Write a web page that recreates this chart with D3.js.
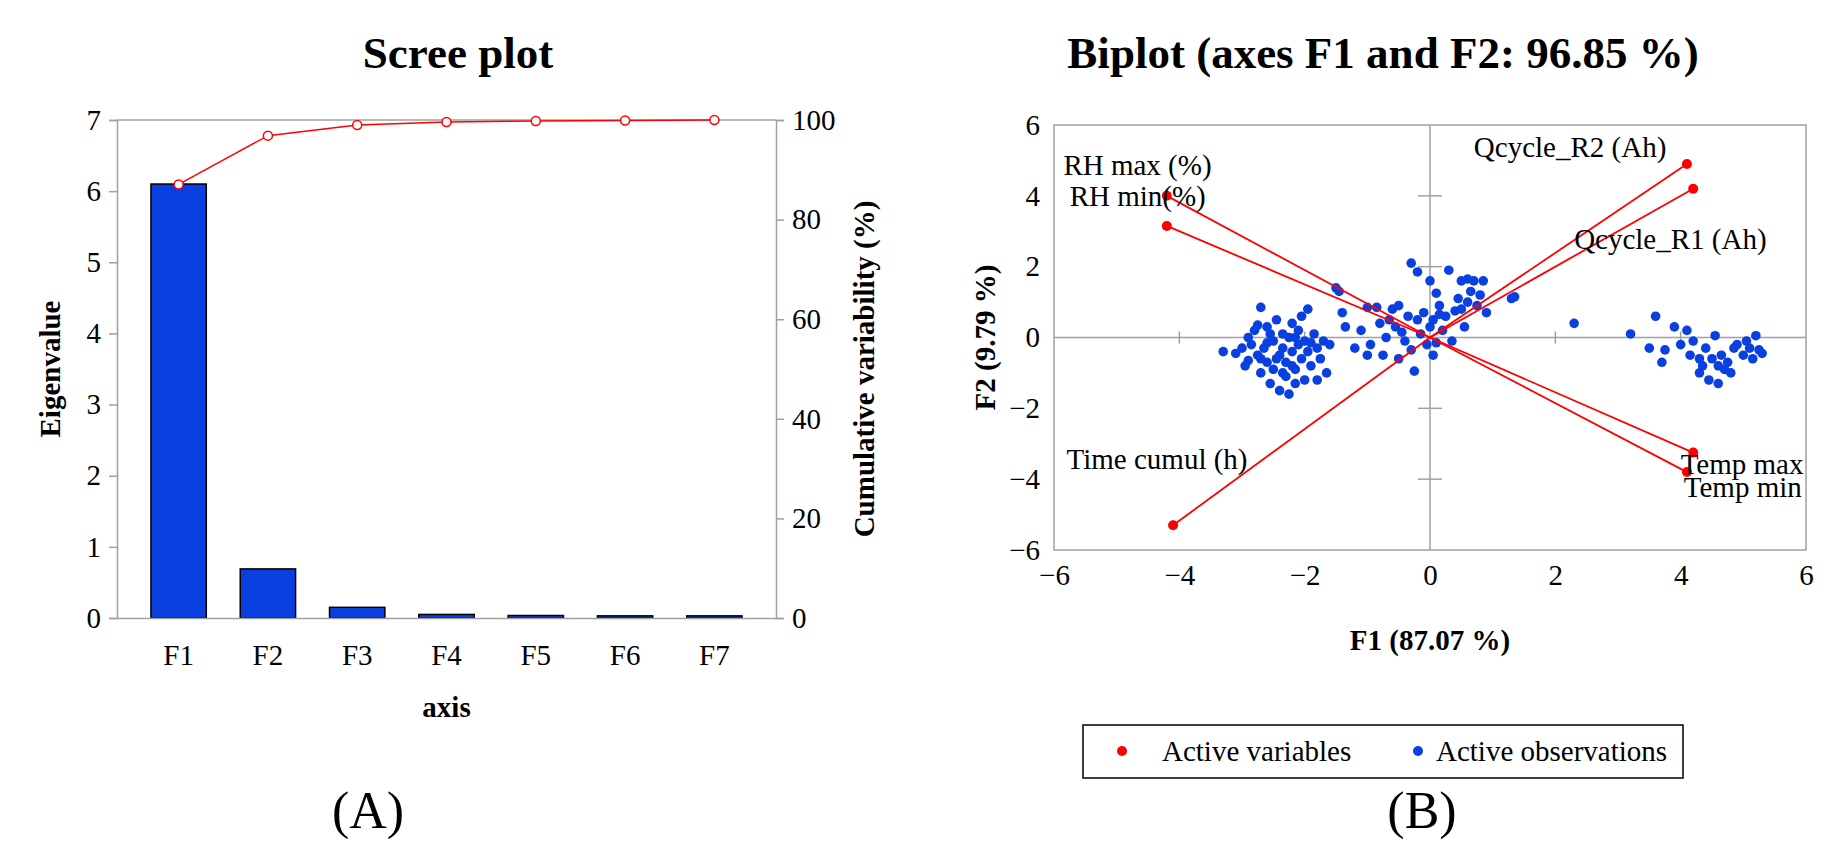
<!DOCTYPE html>
<html><head><meta charset="utf-8">
<script src="https://cdn.jsdelivr.net/npm/d3@7"></script>
<style>body{margin:0;background:#fff}text{font-family:"Liberation Serif","Times New Roman",serif}</style>
</head><body><svg id="c" width="1840" height="850"></svg>
<script>
const factors=["F1","F2","F3","F4","F5","F6","F7"];
const eigenvalues=[6.1,0.69,0.15,0.05,0.035,0.03,0.03];
const cumulative=[87.07,96.86,99.0,99.6,99.8,99.9,100];
const eigTicks=[0,1,2,3,4,5,6,7];
const cumTicks=[0,20,40,60,80,100];
const varNames=["RH max (%)","RH min(%)","Qcycle_R2 (Ah)","Qcycle_R1 (Ah)","Temp max","Temp min","Time cumul (h)"];
const varX=[-4.2,-4.2,4.1,4.2,4.2,4.1,-4.1];
const varY=[4.0,3.15,4.9,4.2,-3.25,-3.8,-5.3];
const varLabelX=[-5.85,-5.75,0.7,2.3,4.0,4.05,-5.8];
const varLabelY=[4.6,3.7,5.1,2.5,-3.85,-4.5,-3.7];
const obsX=[-3.1,-3.0,-2.95,-2.9,-2.85,-2.8,-2.75,-2.7,-2.7,-2.65,-2.6,-2.6,-2.55,-2.5,-2.5,-2.45,-2.4,-2.4,-2.35,-2.35,-2.3,-2.3,-2.25,-2.25,-2.2,-2.2,-2.15,-2.15,-2.1,-2.1,-2.05,-2.0,-2.0,-1.95,-1.95,-1.9,-1.85,-1.8,-1.75,-1.7,-1.65,-2.9,-2.75,-2.6,-2.45,-2.2,-2.05,-1.9,-3.3,-2.55,-2.35,-2.7,-2.15,-1.8,
-1.5,-1.45,-1.6,-1.4,-1.35,-1.2,-1.1,-1.0,-0.95,-0.85,-0.8,-0.75,-0.7,-0.6,-0.55,-0.5,-0.45,-0.4,-0.35,-0.3,-0.25,-0.2,-0.15,-0.1,-0.05,0.0,0.05,0.05,0.1,0.15,0.2,0.25,0.3,0.35,0.4,0.45,0.5,0.55,0.6,0.65,0.7,0.75,0.8,0.85,0.9,0.6,1.3,1.35,2.3,-0.5,-0.2,0.1,-0.3,0.0,0.15,-1.0,0.5,-0.65,
3.2,3.5,3.6,3.7,3.75,3.9,4.0,4.1,4.15,4.2,4.3,4.35,4.4,4.45,4.5,4.55,4.6,4.65,4.7,4.75,4.8,4.85,4.9,5.0,5.05,5.1,5.15,5.2,5.25,5.3,4.3,4.6];
const obsY=[-0.45,-0.3,-0.8,-0.65,-0.2,0.2,-0.5,-1.0,0.85,-0.3,-0.7,0.3,-1.3,-0.1,-0.9,0.5,-0.5,-1.5,0.1,-0.3,-1.1,-0.7,0.0,-1.6,0.4,-0.4,-0.9,-1.3,-0.2,0.2,-0.6,-1.2,-0.1,0.8,-0.4,-0.8,0.1,-0.3,-0.6,-0.1,-1.0,0.0,0.35,-0.15,-0.6,-0.8,0.6,-0.15,-0.4,0.1,-1.0,-0.6,0.0,-1.2,
1.4,1.3,-0.2,0.7,0.3,-0.3,0.2,0.85,-0.2,0.85,0.4,-0.5,0.0,0.8,0.3,-0.6,0.15,-0.1,0.6,2.1,-0.95,1.85,0.1,0.7,-0.2,1.6,0.5,-0.5,1.25,0.9,0.2,0.6,1.9,-0.1,0.75,1.1,1.6,0.3,1.0,1.3,1.6,0.9,1.2,1.6,0.7,1.65,1.1,1.15,0.4,0.9,0.5,-0.15,-0.35,0.3,0.65,-0.5,0.8,0.5,
0.1,-0.3,0.6,-0.7,-0.35,0.3,-0.2,0.2,-0.5,-0.1,-1.0,-0.8,-0.3,-1.2,-0.6,0.05,-1.3,-0.5,-0.9,-0.7,-1.0,-0.3,-0.2,-0.5,-0.1,-0.3,-0.6,0.05,-0.35,-0.45,-0.6,-0.8];
const biTicks=[-6,-4,-2,0,2,4,6];

const svg=d3.select("#c");
const GRAY="#a0a0a0",BLUE="#0a40e0",RED="#ff0000";
const FS=29;
// ---- Scree plot
const L=117,R=776,T=120,B=618;
const x=d3.scaleBand().domain(factors).range([L,R]).padding(0.38);
const y=d3.scaleLinear().domain([0,7]).range([B,T]);
const y2=d3.scaleLinear().domain([0,100]).range([B,T]);
const g=svg.append("g");
g.selectAll("rect.bar").data(factors).join("rect").attr("x",d=>x(d)).attr("width",x.bandwidth())
 .attr("y",(d,i)=>y(eigenvalues[i])).attr("height",(d,i)=>B-y(eigenvalues[i])).attr("fill",BLUE).attr("stroke","#000").attr("stroke-width",1.5);
const ax1=g.append("g").attr("transform",`translate(${L},0)`).call(d3.axisLeft(y).tickValues(eigTicks).tickFormat(d3.format("d")).tickSize(8).tickPadding(8));
const ax2=g.append("g").attr("transform",`translate(${R},0)`).call(d3.axisRight(y2).tickValues(cumTicks).tickSize(8).tickPadding(8));
const ax3=g.append("g").attr("transform",`translate(0,${B})`).call(d3.axisBottom(x).tickSize(0).tickPadding(26));
g.append("line").attr("x1",L).attr("x2",R).attr("y1",T).attr("y2",T).attr("stroke",GRAY).attr("stroke-width",1.5);
[ax1,ax2,ax3].forEach(a=>{a.selectAll("path,line").attr("stroke",GRAY).attr("stroke-width",1.5);a.selectAll("text").attr("font-size",FS).attr("fill","#000").style("font-family","Liberation Serif");});
const line=d3.line().x((d,i)=>x(factors[i])+x.bandwidth()/2).y(d=>y2(d));
g.append("path").attr("d",line(cumulative)).attr("fill","none").attr("stroke",RED).attr("stroke-width",1.5);
g.selectAll("circle.c").data(cumulative).join("circle").attr("cx",(d,i)=>x(factors[i])+x.bandwidth()/2).attr("cy",d=>y2(d)).attr("r",4.5).attr("fill","#fff").attr("stroke",RED).attr("stroke-width",1.5);
g.append("text").attr("x",458).attr("y",68).attr("text-anchor","middle").attr("font-size",45).attr("font-weight","bold").text("Scree plot");
g.append("text").attr("transform",`translate(60,${(T+B)/2}) rotate(-90)`).attr("text-anchor","middle").attr("font-size",FS).attr("font-weight","bold").text("Eigenvalue");
g.append("text").attr("transform",`translate(874,${(T+B)/2}) rotate(-90)`).attr("text-anchor","middle").attr("font-size",FS).attr("font-weight","bold").text("Cumulative variability (%)");
g.append("text").attr("x",(L+R)/2).attr("y",717).attr("text-anchor","middle").attr("font-size",FS).attr("font-weight","bold").text("axis");
g.append("text").attr("x",368).attr("y",828).attr("text-anchor","middle").attr("font-size",52).text("(A)");
// ---- Biplot
const bL=1054,bR=1806,bT=125,bB=550;
const bx=d3.scaleLinear().domain([-6,6]).range([bL,bR]);
const by=d3.scaleLinear().domain([-6,6]).range([bB,bT]);
const h=svg.append("g");
h.append("rect").attr("x",bL).attr("y",bT).attr("width",bR-bL).attr("height",bB-bT).attr("fill","none").attr("stroke",GRAY).attr("stroke-width",1.5);
const bax=h.append("g").attr("transform",`translate(0,${bB})`).call(d3.axisBottom(bx).tickValues(biTicks).tickSize(0).tickPadding(14));
const bay=h.append("g").attr("transform",`translate(${bL},0)`).call(d3.axisLeft(by).tickValues(biTicks).tickSize(0).tickPadding(14));
[bax,bay].forEach(a=>{a.select("path").remove();a.selectAll("text").attr("font-size",FS).attr("fill","#000").style("font-family","Liberation Serif");});
h.append("line").attr("x1",bL).attr("x2",bR).attr("y1",by(0)).attr("y2",by(0)).attr("stroke",GRAY).attr("stroke-width",1.5);
h.append("line").attr("x1",bx(0)).attr("x2",bx(0)).attr("y1",bT).attr("y2",bB).attr("stroke",GRAY).attr("stroke-width",1.5);
h.selectAll("line.tx").data(biTicks.filter(d=>Math.abs(d)<6&&d!==0)).join("line").attr("x1",d=>bx(d)).attr("x2",d=>bx(d)).attr("y1",by(0)-6).attr("y2",by(0)+6).attr("stroke",GRAY).attr("stroke-width",1.5);
h.selectAll("line.ty").data(biTicks.filter(d=>Math.abs(d)<6&&d!==0)).join("line").attr("y1",d=>by(d)).attr("y2",d=>by(d)).attr("x1",bx(0)-12).attr("x2",bx(0)+12).attr("stroke",GRAY).attr("stroke-width",1.5);
h.selectAll("circle.o").data(obsX).join("circle").attr("cx",d=>bx(d)).attr("cy",(d,i)=>by(obsY[i])).attr("r",4.8).attr("fill",BLUE);
h.selectAll("line.v").data(varX).join("line").attr("x1",bx(0)).attr("y1",by(0)).attr("x2",d=>bx(d)).attr("y2",(d,i)=>by(varY[i])).attr("stroke",RED).attr("stroke-width",1.8);
h.selectAll("circle.v").data(varX).join("circle").attr("cx",d=>bx(d)).attr("cy",(d,i)=>by(varY[i])).attr("r",5).attr("fill",RED);
h.selectAll("text.v").data(varNames).join("text").attr("x",(d,i)=>bx(varLabelX[i])).attr("y",(d,i)=>by(varLabelY[i])).attr("font-size",FS).text(d=>d);
h.append("text").attr("x",1383).attr("y",68).attr("text-anchor","middle").attr("font-size",45).attr("font-weight","bold").text("Biplot (axes F1 and F2: 96.85 %)");
h.append("text").attr("x",(bL+bR)/2).attr("y",650).attr("text-anchor","middle").attr("font-size",FS).attr("font-weight","bold").text("F1 (87.07 %)");
h.append("text").attr("transform",`translate(995,${(bT+bB)/2}) rotate(-90)`).attr("text-anchor","middle").attr("font-size",FS).attr("font-weight","bold").text("F2 (9.79 %)");
h.append("rect").attr("x",1083).attr("y",725).attr("width",600).attr("height",53).attr("fill","none").attr("stroke","#000").attr("stroke-width",1.5);
h.append("circle").attr("cx",1122).attr("cy",751).attr("r",5).attr("fill",RED);
h.append("text").attr("x",1162).attr("y",761).attr("font-size",FS).text("Active variables");
h.append("circle").attr("cx",1418).attr("cy",751).attr("r",5).attr("fill",BLUE);
h.append("text").attr("x",1436).attr("y",761).attr("font-size",FS).text("Active observations");
h.append("text").attr("x",1422).attr("y",828).attr("text-anchor","middle").attr("font-size",52).text("(B)");
</script></body></html>
